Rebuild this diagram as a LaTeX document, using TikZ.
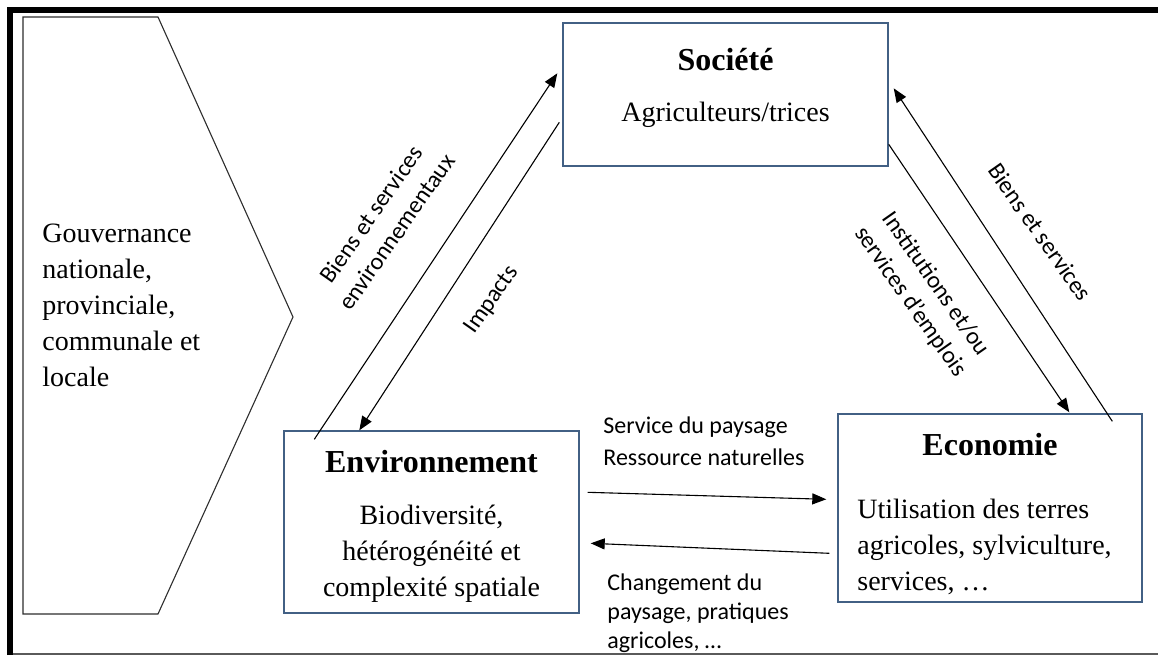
\documentclass[tikz,border=0pt]{standalone}
\usepackage{fontspec}
\setmainfont{Liberation Serif}
\newfontfamily\labelfont{Carlito}
\usetikzlibrary{arrows.meta, positioning, calc}
\definecolor{boxblue}{RGB}{66, 96, 132}
\definecolor{framegray}{RGB}{90, 90, 90}
\definecolor{chevgray}{RGB}{45, 45, 45}

\begin{document}
\begin{tikzpicture}[x=0.5pt, y=-0.5pt,
  panel/.style={draw=boxblue, line width=0.7pt, inner sep=0pt},
  panelhead/.style={font=\fontsize{16}{19}\selectfont\bfseries, anchor=base, inner sep=0pt},
  paneltext/.style={font=\fontsize{14}{18}\selectfont, inner sep=0pt},
  flow/.style={-{Triangle[length=7pt, width=5.5pt]}, line width=0.55pt},
  flowlabel/.style={font=\labelfont\fontsize{12}{15.5}\selectfont, inner sep=0pt, align=center}]
  \useasboundingbox (0,0) rectangle (1158,655);

  % Outer frame
  \draw[line width=3pt] (10,655) -- (10,10) -- (1158,10);
  \draw[framegray, line width=0.6pt] (13,654) -- (1158,654);

  % Governance chevron
  \draw[chevgray, line width=0.55pt] (23,17) -- (158,17) -- (293,317) -- (158,614) -- (23,614) -- cycle;
  \node[paneltext, anchor=west, align=left] (gov) at (42,305) {Gouvernance\\nationale,\\provinciale,\\communale et\\locale};

  % Three pillars
  \node[panel, minimum width=162.5pt, minimum height=71.5pt] (soc) at (725.5,94.5) {};
  \node[panel, minimum width=147.5pt, minimum height=91pt] (env) at (431.5,522) {};
  \node[panel, minimum width=152pt, minimum height=94pt] (eco) at (990,508) {};

  % Société
  \node[panelhead] (socH) at (725.5,70) {Société};
  \node[paneltext, anchor=base] (socT) at (725.5,121) {Agriculteurs/trices};

  % Environnement
  \node[panelhead] (envH) at (431.5,472) {Environnement};
  \node[paneltext, align=center] (envT) at (431.5,554) {Biodiversité,\\hétérogénéité et\\complexité spatiale};

  % Economie
  \node[panelhead] (ecoH) at (990,455) {Economie};
  \node[paneltext, anchor=west, align=left] (ecoT) at (857,547) {Utilisation des terres\\agricoles, sylviculture,\\services, …};

  % Arrow ends
  \coordinate (envA) at ($(env.north west)+(31,9)$);
  \coordinate (socA) at ($(soc.north west)+(-5,51)$);
  \coordinate (socB) at ($(soc.north west)+(-3,100)$);
  \coordinate (envB) at ($(env.north west)+(76,0)$);
  \coordinate (socC) at ($(soc.north east)+(0,122)$);
  \coordinate (ecoC) at ($(eco.north west)+(232,-1)$);
  \coordinate (ecoD) at ($(eco.north west)+(275,8)$);
  \coordinate (socD) at ($(soc.north east)+(5,66)$);
  \coordinate (envE) at ($(env.north east)+(8,62)$);
  \coordinate (ecoE) at ($(eco.north west)+(-11,86)$);
  \coordinate (ecoF) at ($(eco.north west)+(-8,140)$);
  \coordinate (envF) at ($(env.north east)+(11,113)$);

  % Exchanges
  \draw[flow] (envA) -- (socA);
  \draw[flow] (socB) -- (envB);
  \draw[flow] (socC) -- (ecoC);
  \draw[flow] (ecoD) -- (socD);
  \draw[flow] (envE) -- (ecoE);
  \draw[flow] (ecoF) -- (envF);

  % Labels
  \node[flowlabel, rotate=55] (lblA) at (384,223) {Biens et services\\environnementaux};
  \node[flowlabel, rotate=55] (lblB) at (492,300) {Impacts};
  \node[flowlabel, rotate=-55] (lblC) at (923,293) {Institutions et/ou\\services d’emplois};
  \node[flowlabel, rotate=-55] (lblD) at (1040,232) {Biens et services};
  \node[flowlabel, anchor=west, align=left, font=\labelfont\fontsize{12}{16}\selectfont] (lblE) at (603,441) {Service du paysage\\Ressource naturelles};
  \node[flowlabel, anchor=west, align=left, font=\labelfont\fontsize{12}{14.5}\selectfont] (lblF) at (607,613) {Changement du\\paysage, pratiques\\agricoles, …};
\end{tikzpicture}
\end{document}
